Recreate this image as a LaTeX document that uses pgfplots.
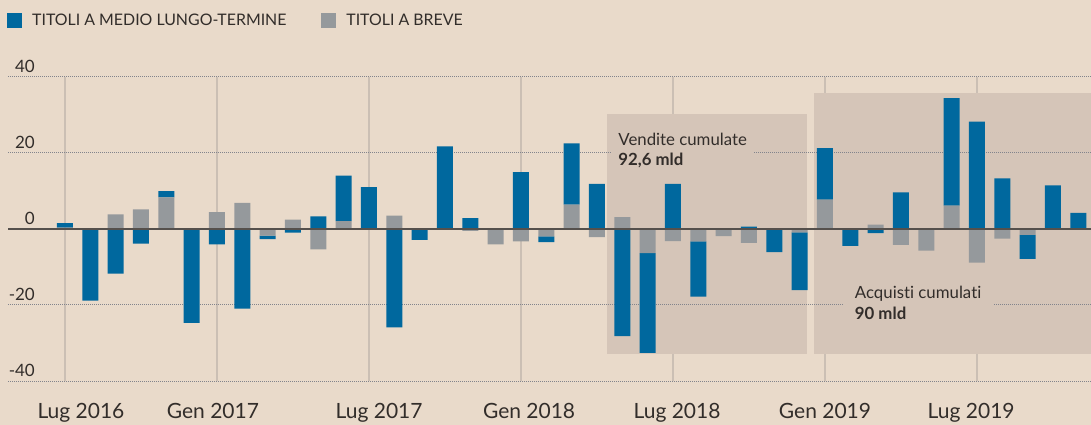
\documentclass[border=0pt]{standalone}
\usepackage{fontspec}
\setmainfont{Lato}[Ligatures=NoCommon]
\usepackage{pgfplots}
\usepackage{pgfplotstable}
\pgfplotsset{compat=1.18}
\definecolor{bg}{RGB}{233,218,202}
\definecolor{shadecol}{RGB}{213,197,184}
\definecolor{myblue}{RGB}{0,104,158}
\definecolor{mygrey}{RGB}{149,153,156}
\definecolor{txt}{RGB}{50,45,42}
\definecolor{vgrid}{RGB}{203,191,180}
\definecolor{hgrid}{RGB}{130,132,140}
\definecolor{zline}{RGB}{85,80,76}

\pgfplotstableread{
x g b
0 0.3 1.2
1 0 -18.9
2 3.8 -11.8
3 5.1 -3.9
4 8.3 1.6
5 0 -24.7
6 4.4 -4.1
7 6.8 -21.0
8 -1.8 -0.9
9 2.4 -1.0
10 -5.4 3.3
11 2.0 12.0
12 0 11.0
13 3.5 -25.9
14 0 -2.9
15 0 21.7
16 -0.5 2.8
17 -4.1 0
18 -3.3 14.9
19 -2.0 -1.5
20 6.4 16.1
21 -2.2 11.8
22 3.1 -28.2
23 -6.4 -26.2
24 -3.2 11.8
25 -3.3 -14.5
26 -1.9 0
27 -3.7 0.6
28 0 -6.1
29 -0.9 -15.2
30 7.7 13.5
31 0 -4.5
32 1.1 -1.1
33 -4.2 9.6
34 -5.7 0
35 6.1 28.3
36 -8.9 28.2
37 -2.6 13.3
38 -1.6 -6.3
39 0 11.4
40 0 4.2
}\data

\begin{document}
\begin{tikzpicture}[x=1pt,y=1pt]
\begin{axis}[
  set layers,
  at={(8pt,43pt)}, anchor=south west,
  scale only axis, width=1083pt, height=304.3pt,
  xmin=-2.25, xmax=40.5, ymin=-40, ymax=40,
  enlargelimits=false, clip=false,
  axis line style={draw=none},
  major tick length=0pt,
  ybar stacked, stack negative=separate, bar width=16pt,
  xtick={0.63,5.84,12.4,18.32,24.16,30.0,35.77},
  xticklabels={Lug 2016,Gen 2017,Lug 2017,Gen 2018,Lug 2018,Gen 2019,Lug 2019},
  extra x ticks={0,6,12,18,24,30,36},
  extra x tick labels={},
  extra x tick style={xmajorgrids=true, x grid style={vgrid, line width=1.3pt}},
  ytick={-40,-20,0,20,40},
  yticklabels={-40,-20,0,20,40},
  xticklabel style={font=\fontsize{21}{24}\selectfont, text=txt, anchor=north, inner sep=0pt, yshift=-22pt},
  yticklabel style={font=\fontsize{17}{20}\selectfont, text=txt, anchor=south east, inner sep=0pt, xshift=27pt, yshift=4pt},
  reverse legend,
  legend columns=2,
  legend image code/.code={\fill[#1] (0pt,-7.5pt) rectangle (15pt,7.5pt);},
  legend style={at={(0,1)}, anchor=west, xshift=-1pt, yshift=56pt, draw=none, fill=none,
    inner sep=0pt, font=\fontsize{15.9}{18}\selectfont, text=txt,
    nodes={inner sep=0pt},
    /tikz/every odd column/.append style={column sep=10pt},
    /tikz/every even column/.append style={column sep=35pt}},
]
\pgfplotsextra{%
\begin{pgfonlayer}{axis background}
\fill[bg] (axis cs:-6,-70) rectangle (axis cs:45,80);
\end{pgfonlayer}%
\begin{pgfonlayer}{pre main}
\fill[shadecol] (axis cs:21.4,-32.8) rectangle (axis cs:29.3,30.1);
\fill[shadecol] (axis cs:29.57,-32.8) rectangle (axis cs:40.5,35.7);
\draw[hgrid, line width=1pt, dash pattern=on 1pt off 1pt] (axis cs:-2.25,-40) -- (axis cs:40.5,-40);
\draw[hgrid, line width=1pt, dash pattern=on 1pt off 1pt] (axis cs:-2.25,-20) -- (axis cs:40.5,-20);
\draw[hgrid, line width=1pt, dash pattern=on 1pt off 1pt] (axis cs:-2.25,20) -- (axis cs:40.5,20);
\draw[hgrid, line width=1pt, dash pattern=on 1pt off 1pt] (axis cs:-2.25,40) -- (axis cs:40.5,40);
\node[anchor=north west, fill=shadecol, inner xsep=6pt, inner ysep=4pt, align=left,
  font=\fontsize{16.8}{20.5}\selectfont, text=txt] at (axis cs:21.6,26.4)
  {Vendite cumulate\\\textbf{92,6 mld}};
\node[anchor=north west, fill=shadecol, inner xsep=12pt, inner ysep=4pt, align=left,
  font=\fontsize{16.8}{20.5}\selectfont, text=txt] at (axis cs:30.7,-14.0)
  {Acquisti cumulati\\\textbf{90 mld}};
\end{pgfonlayer}%
}
\addplot[fill=mygrey, draw=none] table[x=x,y=g]{\data};
\addlegendentry{TITOLI A BREVE}
\addplot[fill=myblue, draw=none] table[x=x,y=b]{\data};
\addlegendentry{TITOLI A MEDIO LUNGO-TERMINE}
\pgfplotsextra{%
\begin{pgfonlayer}{axis foreground}
\draw[zline, line width=1.5pt] (axis cs:-2.25,0) -- (axis cs:40.5,0);
\end{pgfonlayer}%
}
\end{axis}
\pgfresetboundingbox
\path (0,0) rectangle (1091,424);
\end{tikzpicture}
\end{document}
